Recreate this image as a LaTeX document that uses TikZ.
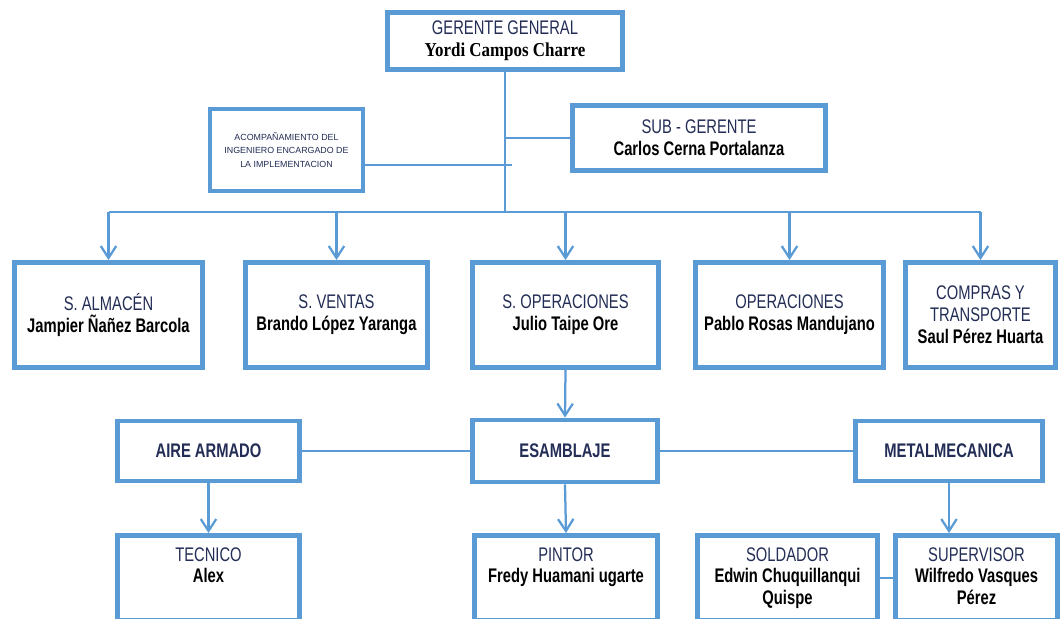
\documentclass[tikz,border=0pt]{standalone}
\usepackage{fontspec}
\setmainfont{Liberation Sans}
\newfontfamily\narrowsans[FakeStretch=0.75]{Liberation Sans}
\newfontfamily\narrowserif[FakeStretch=0.86]{Liberation Serif}
\usetikzlibrary{positioning,arrows.meta}
\definecolor{orgblue}{RGB}{91,155,213}
\definecolor{cargonavy}{RGB}{35,45,85}
\newcommand{\cargo}[1]{{\color{cargonavy}#1}}
\newcommand{\nombre}[1]{\textbf{#1}}
\newcommand{\area}[1]{{\color{cargonavy}\bfseries #1}}

\begin{document}
\begin{tikzpicture}[x=0.025cm,y=-0.025cm,
  orgbox/.style={draw=orgblue,line width=3.5pt,fill=white,align=center,inner sep=2pt,
    font=\narrowsans\fontsize{14pt}{15.5pt}\selectfont},
  boxtext/.style={align=center,inner sep=0pt,font=\narrowsans\fontsize{14pt}{15.5pt}\selectfont},
  link/.style={draw=orgblue,line width=1.6pt},
  arr/.style={link,-{Straight Barb[length=8.5pt,width=11pt]}}
]
\path[use as bounding box,clip] (0,0) rectangle (1062,618);
\fill[white] (0,0) rectangle (1062,618);

\node[orgbox,minimum width=5.875cm,minimum height=1.425cm] (ger) at (505,41)
  {\cargo{GERENTE GENERAL}\\{\narrowserif\fontsize{14pt}{15.5pt}\selectfont\bfseries Yordi Campos Charre}};
\node[orgbox,line width=3pt,minimum width=3.825cm,minimum height=2.05cm,
  font=\fontsize{6.3pt}{9.5pt}\selectfont\color{cargonavy}] (acomp) at (286.5,150)
  {ACOMPAÑAMIENTO DEL\\INGENIERO ENCARGADO DE\\LA IMPLEMENTACION};
\node[orgbox,minimum width=6.325cm,minimum height=1.625cm] (sub) at (699,138)
  {\cargo{SUB - GERENTE}\\\nombre{Carlos Cerna Portalanza}};

\node[orgbox,minimum width=4.7cm,minimum height=2.625cm] (alm) at (108.5,315)
  {\cargo{S. ALMACÉN}\\\nombre{Jampier Ñañez Barcola}};
\node[orgbox,minimum width=4.55cm,minimum height=2.625cm] (ven) at (336.5,315)
  {\cargo{S. VENTAS}\\\nombre{Brando López Yaranga}};
\node[orgbox,minimum width=4.65cm,minimum height=2.625cm] (sop) at (565.5,315)
  {\cargo{S. OPERACIONES}\\\nombre{Julio Taipe Ore}};
\node[orgbox,minimum width=4.7cm,minimum height=2.625cm] (ope) at (789.5,315)
  {\cargo{OPERACIONES}\\\nombre{Pablo Rosas Mandujano}};
\node[orgbox,minimum width=3.75cm,minimum height=2.625cm] (com) at (980.5,315)
  {\cargo{COMPRAS Y}\\\cargo{TRANSPORTE}\\\nombre{Saul Pérez Huarta}};

\node[orgbox,minimum width=4.55cm,minimum height=1.5cm] (aire) at (208.5,451) {\area{AIRE ARMADO}};
\node[orgbox,minimum width=4.625cm,minimum height=1.55cm] (esa) at (565,451) {\area{ESAMBLAJE}};
\node[orgbox,minimum width=4.675cm,minimum height=1.5cm] (met) at (949,451) {\area{METALMECANICA}};

\node[orgbox,minimum width=4.55cm,minimum height=2.125cm] (tec) at (208.5,578) {};
\node[orgbox,minimum width=4.575cm,minimum height=2.125cm] (pin) at (566,578) {};
\node[orgbox,minimum width=4.5cm,minimum height=2.125cm] (sol) at (787.5,578) {};
\node[orgbox,minimum width=4.05cm,minimum height=2.125cm] (sup) at (976.5,578) {};
\node[boxtext,below=10pt of tec.north] (tecT) {\cargo{TECNICO}\\\nombre{Alex}};
\node[boxtext,below=10pt of pin.north] (pinT) {\cargo{PINTOR}\\\nombre{Fredy Huamani ugarte}};
\node[boxtext,below=10pt of sol.north] (solT) {\cargo{SOLDADOR}\\\nombre{Edwin Chuquillanqui}\\\nombre{Quispe}};
\node[boxtext,below=10pt of sup.north] (supT) {\cargo{SUPERVISOR}\\\nombre{Wilfredo Vasques}\\\nombre{Pérez}};

\coordinate (bus) at (505,212);
\coordinate (acompEnd) at (512,165);
\draw[link] (ger.south) -- (bus);
\draw[link] (ger.south |- sub.west) -- (sub.west);
\draw[link,line width=1pt] (acomp.east |- acompEnd) -- (acompEnd);
\draw[link] (alm.north |- bus) -- (com.north |- bus);
\foreach \n in {alm,ven,sop,ope,com}
  \draw[arr] (\n.north |- bus) -- (\n.north);
\draw[arr] (sop.south) -- (esa.north);
\draw[link,line width=2pt] (aire.east) -- (esa.west) (esa.east) -- (met.west);
\draw[arr] (aire.south) -- (tec.north);
\draw[arr] (esa.south) -- (pin.north);
\draw[arr] (met.south) -- (met.south |- sup.north);
\draw[link,line width=2pt] (sol.east) -- (sup.west);
\end{tikzpicture}
\end{document}
